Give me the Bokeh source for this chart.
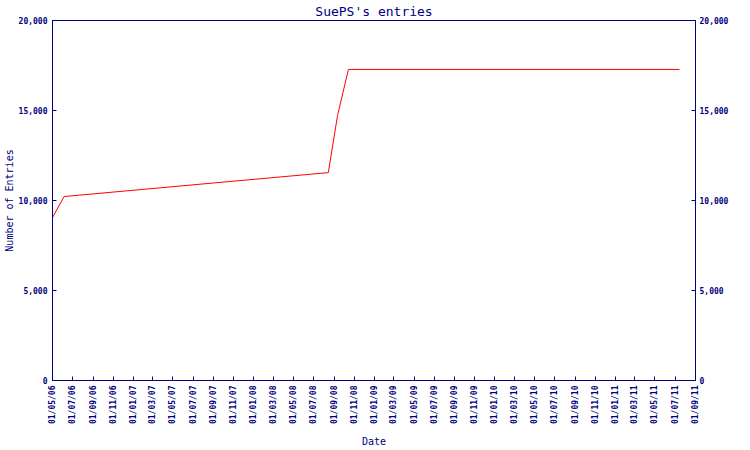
from datetime import datetime
from bokeh.plotting import figure
from bokeh.models import (LinearAxis, FixedTicker, DatetimeTickFormatter,
                          NumeralTickFormatter, Range1d)
from bokeh.embed import file_html
from bokeh.resources import INLINE

# ---- data ----
entry_dates = ["2006-05-01", "2006-06-05", "2008-08-14", "2008-09-11",
               "2008-10-14", "2011-07-14"]
entry_counts = [9050, 10220, 11550, 14720, 17280, 17280]

tick_labels = ["01/05/06", "01/07/06", "01/09/06", "01/11/06", "01/01/07", "01/03/07",
               "01/05/07", "01/07/07", "01/09/07", "01/11/07", "01/01/08", "01/03/08",
               "01/05/08", "01/07/08", "01/09/08", "01/11/08", "01/01/09", "01/03/09",
               "01/05/09", "01/07/09", "01/09/09", "01/11/09", "01/01/10", "01/03/10",
               "01/05/10", "01/07/10", "01/09/10", "01/11/10", "01/01/11", "01/03/11",
               "01/05/11", "01/07/11", "01/09/11"]
y_ticks = [0, 5000, 10000, 15000, 20000]

NAVY = "#000080"
FONT = "DejaVu Sans Mono"

xs = [datetime.strptime(d, "%Y-%m-%d") for d in entry_dates]
tick_dt = [datetime.strptime(t, "%d/%m/%y") for t in tick_labels]
epoch = datetime(1970, 1, 1)
tick_ms = [(t - epoch).total_seconds() * 1000 for t in tick_dt]

p = figure(width=750, height=450, x_axis_type="datetime",
           output_backend="svg", toolbar_location=None,
           x_range=Range1d(tick_ms[0], tick_ms[-1]),
           y_range=Range1d(0, 20000),
           min_border_left=52, min_border_right=55, min_border_top=20, min_border_bottom=70)

p.title.text = "SuePS's entries"
p.title.align = "center"
p.title.text_font = FONT
p.title.text_font_size = "13px"
p.title.text_font_style = "normal"
p.title.text_color = NAVY
p.title.standoff = 3

p.line(xs, entry_counts, line_color="red", line_width=1)

p.xgrid.visible = False
p.ygrid.visible = False
p.outline_line_color = NAVY
p.outline_line_width = 1

fmt = "%d/%m/%y"
xa = p.xaxis[0]
xa.ticker = FixedTicker(ticks=tick_ms)
xa.formatter = DatetimeTickFormatter(milliseconds=fmt, seconds=fmt, minsec=fmt, minutes=fmt,
                                     hourmin=fmt, hours=fmt, days=fmt, months=fmt, years=fmt)
xa.major_label_orientation = 1.5707963267948966
xa.axis_label = "Date"

ya = p.yaxis[0]
ya.axis_label = "Number of Entries"
ya.ticker = FixedTicker(ticks=y_ticks)
ya.formatter = NumeralTickFormatter(format="0,0")

ra = LinearAxis(ticker=FixedTicker(ticks=y_ticks), formatter=NumeralTickFormatter(format="0,0"))
p.add_layout(ra, "right")

for ax in [xa, ya, ra]:
    ax.axis_line_color = NAVY
    ax.major_tick_line_color = NAVY
    ax.major_tick_in = 4
    ax.major_tick_out = 0
    ax.minor_tick_line_color = None
    ax.major_label_text_color = NAVY
    ax.major_label_text_font = FONT
    ax.major_label_text_font_size = "8px"
    ax.major_label_text_font_style = "bold"
    ax.major_label_standoff = 5
    ax.axis_label_text_color = NAVY
    ax.axis_label_text_font = FONT
    ax.axis_label_text_font_size = "10px"
    ax.axis_label_text_font_style = "normal"
ra.major_label_standoff = 4
xa.axis_label_standoff = 9
ya.axis_label_standoff = 1

open("out.html", "w").write(file_html(p, INLINE))
